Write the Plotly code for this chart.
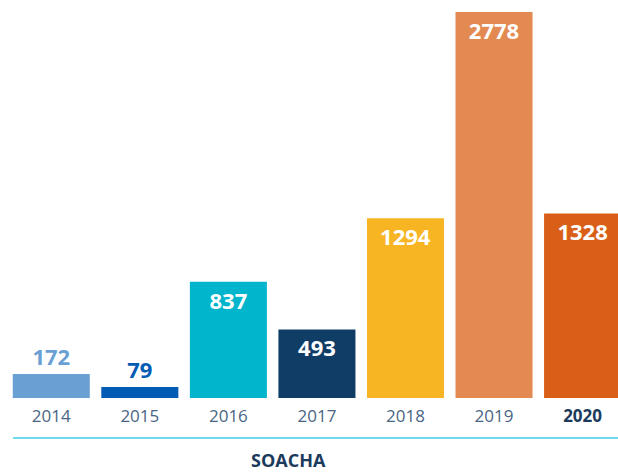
import plotly.graph_objects as go

years = ["2014", "2015", "2016", "2017", "2018", "2019", "2020"]
values = [172, 79, 837, 493, 1294, 2778, 1328]
colors = ["#6a9fd4", "#005bb5", "#00b5cc", "#0f3d66", "#f8b523", "#e38a52", "#d95f19"]
label_pos = ["outside", "outside", "inside", "inside", "inside", "inside", "inside"]
label_colors = ["#6a9fd4", "#005bb5", "white", "white", "white", "white", "white"]
tick_text = ["2014", "2015", "2016", "2017", "2018", "2019",
             "<b><span style='color:#1b3a5c'>2020</span></b>"]

fig = go.Figure(go.Bar(
    x=list(range(len(years))),
    y=values,
    marker=dict(color=colors, line=dict(width=0)),
    text=[str(v) for v in values],
    textposition=label_pos,
    insidetextanchor="end",
    textfont=dict(family="Open Sans", size=22, color=label_colors, weight="bold"),
    constraintext="none",
    cliponaxis=False,
    width=0.87,
    hoverinfo="skip",
))

fig.update_layout(
    width=618, height=472,
    margin=dict(l=7, r=0, t=0, b=74),
    paper_bgcolor="white", plot_bgcolor="white",
    showlegend=False,
    xaxis=dict(
        range=[-0.5, 6.4],
        tickvals=list(range(len(years))),
        ticktext=tick_text,
        tickfont=dict(family="Open Sans", size=17, color="#4a6583"),
        showgrid=False, zeroline=False, showline=False, ticks="",
        ticklabelstandoff=6,
    ),
    yaxis=dict(range=[0, 2864], visible=False),
    shapes=[dict(type="line", xref="paper", yref="paper",
                 x0=0.0098, x1=1, y0=-0.1005, y1=-0.1005,
                 line=dict(color="#3ccfe6", width=1.5))],
    annotations=[dict(text="<b>SOACHA</b>", xref="paper", yref="paper",
                      x=0.4615, y=-0.1555, yanchor="middle", xanchor="center",
                      showarrow=False, borderpad=0,
                      font=dict(family="Open Sans", size=18, color="#1b3a5c"))],
)

fig.write_html("out.html", config={"displayModeBar": False},
               post_script="document.body.style.margin='0';")
